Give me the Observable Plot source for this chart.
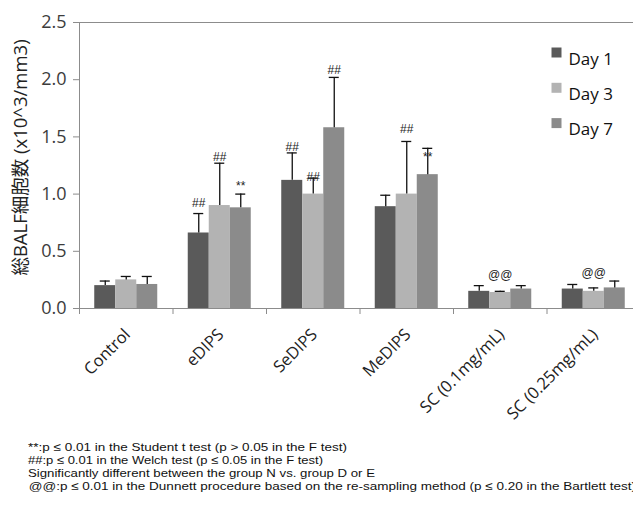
<!DOCTYPE html>
<html><head><meta charset="utf-8">
<script src="https://cdn.jsdelivr.net/npm/d3@7"></script>
<script src="https://cdn.jsdelivr.net/npm/@observablehq/plot@0.6"></script>
<style>
body{margin:0;background:#fff;}
#chart svg{display:block;}
</style>
</head><body><div id="chart"></div>
<script>
// ---- data ----
const categories = ["Control", "eDIPS", "SeDIPS", "MeDIPS", "SC (0.1mg/mL)", "SC (0.25mg/mL)"];
const days = ["Day 1", "Day 3", "Day 7"];
const day1Mean = [0.20, 0.66, 1.12, 0.89, 0.15, 0.17];
const day3Mean = [0.25, 0.90, 1.00, 1.00, 0.14, 0.15];
const day7Mean = [0.21, 0.88, 1.58, 1.17, 0.17, 0.18];
const day1Sd = [0.04, 0.17, 0.24, 0.10, 0.05, 0.04];
const day3Sd = [0.03, 0.37, 0.14, 0.46, 0.01, 0.03];
const day7Sd = [0.07, 0.12, 0.44, 0.23, 0.03, 0.06];
const day1Sig = ["", "##", "##", "", "", ""];
const day3Sig = ["", "##", "##", "##", "@@", "@@"];
const day7Sig = ["", "**", "##", "**", "", ""];
const day1SigY = [0, 0.92, 1.41, 0, 0, 0];
const day3SigY = [0, 1.32, 1.145, 1.57, 0.29, 0.305];
const day7SigY = [0, 1.10, 2.08, 1.35, 0, 0];
const yTicks = [0, 0.5, 1.0, 1.5, 2.0, 2.5];
const yLabel = "総BALF細胞数 (x10^3/mm3)";
const footnotes = [
  "**:p ≤ 0.01 in the Student t test (p > 0.05 in the F test)",
  "##:p ≤ 0.01 in the Welch test (p ≤ 0.05 in the F test)",
  "Significantly different between the group N vs. group D or E",
  " @@:p ≤ 0.01 in the Dunnett procedure based on the re-sampling method (p ≤ 0.20 in the Bartlett test)"
];

// ---- styles ----
const dayColors = ["#5a5a5a", "#b3b3b3", "#8b8b8b"];
const axisGray = "#8c8c8c";
const W = 633, H = 430;
const mL = 79, mT = 22, mB = 122;
const catPx = 93.5;               // pixel width of a category band
const barW = 21 / catPx;           // bar width in category units
const capHalf = 5 / catPx;

const means = [day1Mean, day3Mean, day7Mean];
const sds = [day1Sd, day3Sd, day7Sd];
const sigs = [day1Sig, day3Sig, day7Sig];
const sigYs = [day1SigY, day3SigY, day7SigY];

const rows = [];
categories.forEach((c, i) => days.forEach((d, k) => {
  const x1 = i + 0.5 + (k - 1.5) * barW;
  rows.push({cat: c, i, day: d, k, mean: means[k][i], sd: sds[k][i], top: means[k][i] + sds[k][i],
    sig: sigs[k][i], sigY: sigYs[k][i], x1, x2: x1 + barW, xc: x1 + barW / 2});
}));
const sigRows = rows.filter(r => r.sig);
const catRows = categories.map((c, i) => ({cat: c, xc: i + 0.5}));
const bounds = d3.range(categories.length + 1);
const sigFont = "'Liberation Sans', Arial, sans-serif";

const chart = Plot.plot({
  width: W, height: H,
  marginLeft: mL, marginRight: 0, marginTop: mT, marginBottom: mB,
  style: {fontFamily: "'Open Sans', sans-serif", background: "#fff"},
  x: {type: "linear", domain: [0, (W - mL) / catPx], axis: null},
  y: {type: "linear", domain: [0, 2.5], axis: null},
  color: {domain: days, range: dayColors},
  marks: [
    Plot.ruleY([2.5], {stroke: axisGray, strokeWidth: 1}),
    Plot.rect(rows, {x1: "x1", x2: "x2", y1: 0, y2: "mean", fill: "day"}),
    Plot.ruleX(rows, {x: "xc", y1: "mean", y2: "top", stroke: "#111", strokeWidth: 1.3}),
    Plot.ruleY(rows, {y: "top", x1: r => r.xc - capHalf, x2: r => r.xc + capHalf, stroke: "#111", strokeWidth: 1.3}),
    Plot.text(sigRows.filter(r => r.sig !== "**"), {x: "xc", y: "sigY", text: "sig", fontSize: 12, fill: "#222",
      fontFamily: sigFont}),
    Plot.text(sigRows.filter(r => r.sig === "**"), {x: "xc", y: "sigY", text: "sig", fontSize: 12, fill: "#222",
      fontFamily: sigFont, dy: 3}),
    // axes
    Plot.ruleX([0], {stroke: axisGray}),
    Plot.ruleY([0], {stroke: axisGray}),
    Plot.axisY(yTicks, {tickFormat: d3.format(".1f"), tickSize: 6, tickPadding: 7, fontSize: 18,
      stroke: axisGray, color: "#3c3c3c", label: null}),
    Plot.ruleX(bounds, {x: d => d, y1: 0, y2: 0, insetBottom: -6, stroke: axisGray}),
    Plot.text(catRows, {x: "xc", y: 0, text: "cat", rotate: -45, textAnchor: "end", lineAnchor: "bottom",
      dx: 5, dy: 27, fontSize: 16.5, fill: "#222"}),
    Plot.text([yLabel], {frameAnchor: "left", textAnchor: "middle", lineAnchor: "middle", rotate: -90,
      dx: -58, dy: -8, fontSize: 18.5, fill: "#222",
      fontFamily: "'Open Sans','Noto Sans CJK JP', sans-serif"}),
    // legend
    ...days.map((d, k) => Plot.dot([d], {frameAnchor: "top-right", dx: -77, dy: 30 + k * 35.3,
      symbol: "square", r: 5.64, fill: dayColors[k], stroke: "none"})),
    ...days.map((d, k) => Plot.text([d], {frameAnchor: "top-right", dx: -65, dy: 30 + k * 35.3,
      text: d => d, textAnchor: "start", fontSize: 17, fill: "#111"}))
  ]
});
document.getElementById("chart").appendChild(chart);

// footnotes (caption below the chart)
const notes = d3.select("#chart").append("svg").attr("width", W).attr("height", 506 - H);
const noteBase = [21, 34, 47, 60];
const noteX = [28, 28, 28, 25];
const noteLen = [319, 295, 347, 611];
notes.selectAll("text").data(footnotes).join("text")
  .attr("x", (d, j) => noteX[j]).attr("y", (d, j) => noteBase[j])
  .attr("textLength", (d, j) => noteLen[j]).attr("lengthAdjust", "spacingAndGlyphs")
  .attr("font-family", "'Liberation Sans', Arial, sans-serif").attr("font-size", 11.5)
  .attr("fill", "#111").attr("xml:space", "preserve").text(d => d);
</script>
</body></html>
